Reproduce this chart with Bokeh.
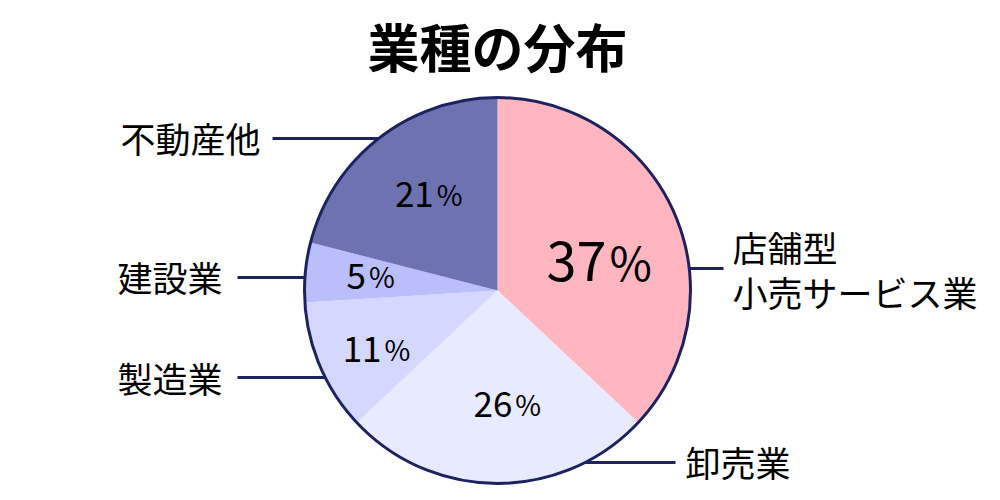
import math
from bokeh.plotting import figure
from bokeh.core.properties import value
from bokeh.embed import file_html
from bokeh.resources import INLINE

# ---- data ----
title = "業種の分布"
categories = ["店舗型\n小売サービス業", "卸売業", "製造業", "建設業", "不動産他"]
shares = [37, 26, 11, 5, 21]

# ---- style ----
colors = ["#FFB6C1", "#E8EAFE", "#D5D8FE", "#BABEFA", "#6D73B0"]
navy = "#1C2260"
font = "Noto Sans CJK JP"

W, H = 984, 492
cx, cy_s, R = 497, 290, 193          # page-pixel layout of the pie
def Y(sy):                            # page y (down) -> data y (up)
    return 500 - sy
cy = Y(cy_s)

# label placement styling
lab_frac = [0.53, 0.60, 0.71, 0.67, 0.61]
lab_nudge = [9, -4, -3, 0, 1]          # degrees
dig_size = [54, 35, 35, 35, 35]
pct_size = [46, 28, 28, 28, 28]
lead_y = [268, 462, 377, 277, 138]
lead_end = [723, 675, 237, 237, 272]
text_x = [732, 685, 222, 222, 260]
text_y = [268, 461, 377, 276, 137]
line_gap = 45

p = figure(width=W, height=H, x_range=(0, W), y_range=(500 - H, 500),
           x_axis_type=None, y_axis_type=None, min_border=0,
           toolbar_location=None, output_backend="svg")
p.grid.visible = False
p.outline_line_color = None
p.background_fill_color = "white"

total = sum(shares)
cum = 0
starts, ends, xs, ys = [], [], [], []
for i, s in enumerate(shares):
    a = cum / total * 360
    b = (cum + s) / total * 360
    cum += s
    starts.append(math.radians(90 - b))
    ends.append(math.radians(90 - a))
    mid = math.radians((a + b) / 2 + lab_nudge[i])
    d = lab_frac[i] * R
    xs.append(cx + d * math.sin(mid))
    ys.append(cy + d * math.cos(mid))

p.wedge(x=cx, y=cy, radius=R, start_angle=starts, end_angle=ends,
        fill_color=colors, line_color=None, direction="anticlock")
p.circle(x=cx, y=cy, radius=R, fill_color=None, line_color=navy, line_width=3)

# percent labels: digits + smaller % sign sharing a baseline
for i, s in enumerate(shares):
    ds, ps = dig_size[i], pct_size[i]
    dw = len(str(s)) * 0.55 * ds
    pw = 0.82 * ps
    split = xs[i] + (dw - pw) / 2
    base = ys[i] + 0.07 * ds
    p.text(x=[split - 1], y=[base], text=[str(s)], text_align="right",
           text_baseline="alphabetic", text_font=value(font),
           text_font_size=f"{ds}px", text_color="black")
    p.text(x=[split + 2], y=[base], text=["%"], text_align="left",
           text_baseline="alphabetic", text_font=value(font),
           text_font_size=f"{ps}px", text_color="black")

# leader lines and category labels
for i, c in enumerate(categories):
    dy = lead_y[i] - cy_s
    dx = math.sqrt(max(R * R - dy * dy, 0))
    right = lead_end[i] > cx
    x0 = cx + dx if right else cx - dx
    p.line(x=[x0, lead_end[i]], y=[Y(lead_y[i])] * 2, line_color=navy, line_width=3)
    parts = c.split("\n")
    n = len(parts)
    for k, part in enumerate(parts):
        sy = text_y[i] + (k - (n - 1) / 2) * line_gap
        p.text(x=[text_x[i]], y=[Y(sy)], text=[part],
               text_align="left" if right else "right", text_baseline="middle",
               text_font=value(font), text_font_size="35px", text_color="black")

p.text(x=[cx], y=[Y(45)], text=[title], text_align="center", text_baseline="middle",
       text_font=value(font), text_font_size="52px", text_font_style="bold",
       text_color="black")

open("out.html", "w").write(file_html(p, INLINE))
